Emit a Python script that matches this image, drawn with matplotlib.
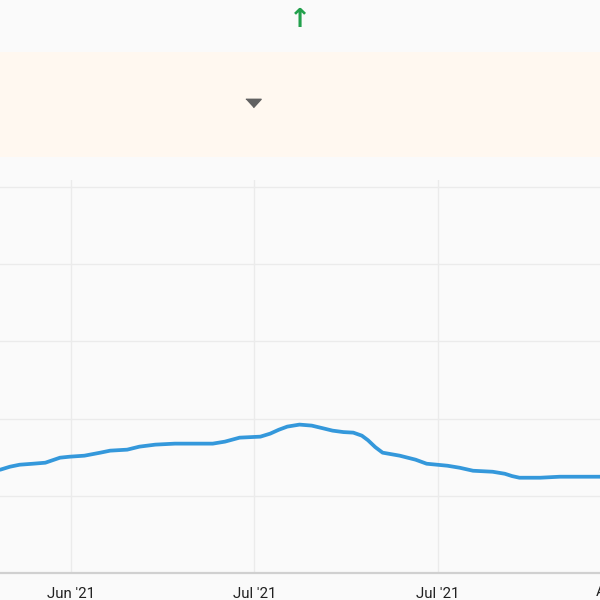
"""
Trend card: header, notice band and a smoothed daily series.
"""

import matplotlib
matplotlib.use("Agg")
import matplotlib.pyplot as plt
from matplotlib.patches import Rectangle
from matplotlib.lines import Line2D

plt.rcParams["savefig.bbox"] = "standard"

# days since 1 Jun 2021
days = [9.2, 10.0, 10.8, 11.9, 12.9, 14.1, 14.9, 16.1, 17.4, 18.2, 19.6,
        20.6, 21.9, 23.5, 26.6, 27.6, 28.8, 30.5, 31.3, 32.0, 32.7, 33.7,
        34.7, 35.6, 36.4, 37.3, 38.1, 38.8, 39.3, 39.9, 40.5, 41.9, 43.2,
        44.1, 45.8, 46.8, 47.9, 49.5, 50.5, 51.1, 51.7, 53.4, 55.0, 58.3]
values = [26.75, 27.53, 28.05, 28.31, 28.57, 29.87, 30.13, 30.39, 31.17,
          31.69, 31.95, 32.73, 33.25, 33.51, 33.51, 34.03, 35.06, 35.32,
          36.10, 37.10, 37.92, 38.44, 38.18, 37.50, 36.88, 36.50, 36.36,
          35.58, 34.40, 32.60, 31.17, 30.39, 29.35, 28.31, 27.79, 27.27,
          26.49, 26.23, 25.71, 25.10, 24.68, 24.68, 24.94, 24.94]

tick_days = [15, 30, 45, 60]
tick_labels = ["Jun '21", "Jul '21", "Jul '21", "Aug '21"]
grid_values = [0, 20, 40, 60, 80, 100]

BG = "#fafafa"
LINE_COLOR = "#3498db"

fig = plt.figure(figsize=(6, 6), dpi=100)
fig.patch.set_facecolor(BG)

# notice band
fig.add_artist(Rectangle((0, 1 - 157 / 600), 1, 105 / 600,
                         transform=fig.transFigure, facecolor="#fff8f0",
                         edgecolor="none"))
# header arrow
fig.text(0.5, 1 - 20 / 600, "\u2191", color="#22a04c", fontsize=19,
         fontweight="bold", ha="center", va="center", family="DejaVu Sans")
# dropdown triangle
fig.add_artist(Line2D([253 / 600], [1 - 103 / 600], transform=fig.transFigure,
                      marker=[(-1, 0.55), (1, 0.55), (0, -0.55)],
                      markersize=11, color="#616161", linestyle="none"))

ax = fig.add_axes([0, 1 - 573 / 600, 1, (573 - 180) / 600])
ax.set_facecolor(BG)
ax.plot(days, values, color=LINE_COLOR, linewidth=2.7,
        solid_capstyle="round", solid_joinstyle="round")

ax.set_xlim(9.19, 58.29)
ax.set_ylim(0, 101.8)

ax.set_yticks(grid_values)
ax.set_xticks(tick_days[:3])
ax.set_xticklabels(tick_labels[:3])
ax.grid(True, color="#ebebeb", linewidth=1)
ax.set_axisbelow(True)

ax.tick_params(axis="y", left=False, labelleft=False)
ax.tick_params(axis="x", length=0, pad=10, labelsize=10.8,
               labelcolor="#212121")
for lab in ax.get_xticklabels():
    lab.set_family("Roboto")

# label of the tick beyond the right edge, cut by the card edge
last = ax.text(tick_days[-1], -0.048, tick_labels[-1],
               transform=ax.get_xaxis_transform(), ha="center", va="center",
               fontsize=10.8, color="#212121", family="Roboto")
last.set_clip_on(True)
last.set_clip_box(fig.bbox)

for side in ["top", "left", "right"]:
    ax.spines[side].set_visible(False)
ax.spines["bottom"].set_color("#d0d0d0")
ax.spines["bottom"].set_linewidth(1.6)

fig.savefig("out.png", dpi=100, facecolor=BG)
